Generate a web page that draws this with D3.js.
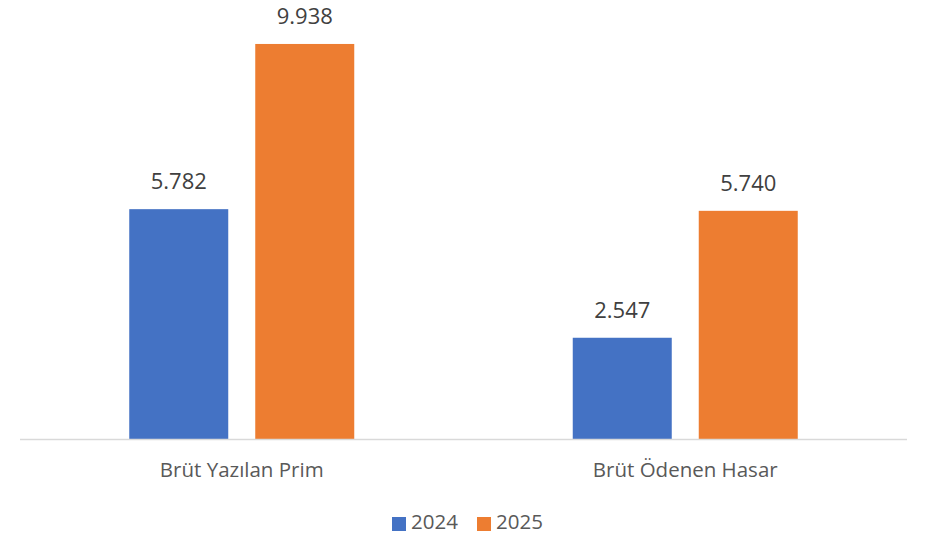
<!DOCTYPE html>
<meta charset="utf-8">
<style>
  body { margin: 0; background: #fff; font-family: "Open Sans", sans-serif; }
  text { dominant-baseline: middle; text-anchor: middle; }
</style>
<body>
<script src="https://d3js.org/d3.v7.min.js"></script>
<script>
var categories = ["Brüt Yazılan Prim", "Brüt Ödenen Hasar"];
var series = ["2024", "2025"];
var values2024 = [5.782, 2.547];
var values2025 = [9.938, 5.740];
var colors = ["#4472C4", "#ED7D31"];

var width = 925, height = 538;
var fmt = d3.format(".3f");

var svg = d3.select("body").append("svg")
  .attr("width", width)
  .attr("height", height);

var x0 = d3.scaleBand().domain(categories).range([20, 907]);
var x1 = d3.scaleBand().domain(series).range([0, 225]).paddingInner(0.2143);
var y = d3.scaleLinear().domain([0, 10]).range([439, 41.5]);
var color = d3.scaleOrdinal().domain(series).range(colors);

var rows = [];
categories.forEach(function(c, i) {
  rows.push({ cat: c, s: "2024", v: values2024[i] });
  rows.push({ cat: c, s: "2025", v: values2025[i] });
});

function barX(d) {
  return x0(d.cat) + x0.bandwidth() / 2 - 112.5 + x1(d.s);
}

svg.selectAll("rect.bar")
  .data(rows)
  .join("rect")
  .attr("class", "bar")
  .attr("x", barX)
  .attr("y", function(d) { return y(d.v); })
  .attr("width", x1.bandwidth())
  .attr("height", function(d) { return y(0) - y(d.v); })
  .attr("fill", function(d) { return color(d.s); });

svg.selectAll("text.val")
  .data(rows)
  .join("text")
  .attr("class", "val")
  .attr("x", function(d) { return barX(d) + x1.bandwidth() / 2; })
  .attr("y", function(d) { return y(d.v) - 26; })
  .attr("fill", "#404040")
  .style("font-size", "22px")
  .text(function(d) { return fmt(d.v); });

// baseline axis
svg.append("line")
  .attr("x1", 20).attr("x2", 907)
  .attr("y1", y(0) + 0.5).attr("y2", y(0) + 0.5)
  .attr("stroke", "#d9d9d9")
  .attr("stroke-width", 1.5);

svg.selectAll("text.cat")
  .data(categories)
  .join("text")
  .attr("class", "cat")
  .attr("x", function(d) { return x0(d) + x0.bandwidth() / 2; })
  .attr("y", 472)
  .attr("fill", "#595959")
  .style("font-size", "20.5px")
  .text(function(d) { return d; });

// legend
var legend = svg.append("g");
var lx = [392, 477];
series.forEach(function(s, i) {
  legend.append("rect")
    .attr("x", lx[i]).attr("y", 517)
    .attr("width", 14).attr("height", 14)
    .attr("fill", color(s));
  legend.append("text")
    .attr("x", lx[i] + 19).attr("y", 524)
    .attr("fill", "#595959")
    .style("font-size", "20.5px")
    .style("text-anchor", "start")
    .text(s);
});
</script>
</body>
